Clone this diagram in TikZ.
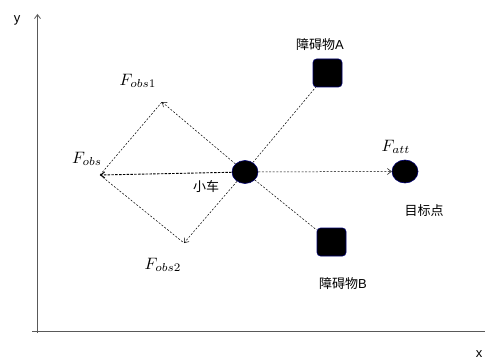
\documentclass[tikz,border=0pt]{standalone}
\usepackage{fontspec}
\setsansfont{Liberation Sans}
\newfontfamily\cjk{Noto Sans CJK SC}
\usetikzlibrary{arrows.meta,shapes.geometric}

\tikzset{
  body/.style={ellipse, fill=black, draw=blue!45!black, line width=0.6pt,
    minimum width=26pt, minimum height=23pt, inner sep=0pt},
  obst/.style={rectangle, rounded corners=3.5pt, fill=black, draw=blue!45!black,
    line width=0.6pt, minimum width=29pt, minimum height=28pt, inner sep=0pt},
  link/.style={draw=black, line width=0.5pt, dash pattern=on 2pt off 1.6pt},
  force/.style={link, -{Straight Barb[length=4pt,width=6pt]}},
  axis/.style={draw=black!65, line width=0.8pt},
  cjklabel/.style={font=\cjk\fontsize{13}{15}\selectfont, inner sep=0pt},
  mathlabel/.style={scale=1.65, inner sep=0pt},
  axislabel/.style={font=\sffamily\fontsize{13}{15}\selectfont, inner sep=0pt}
}

\begin{document}
\begin{tikzpicture}[x=1pt,y=-1pt]
\useasboundingbox (0,0) rectangle (485,361);

% axes
\coordinate (ybot) at (37.5,333);
\coordinate (ytop) at (37.5,14);
\coordinate (xleft) at (32,331);
\coordinate (xright) at (487,331);
\draw[axis, -{Straight Barb[length=4pt,width=6pt]}] (ybot) -- (ytop);
\draw[axis] (xleft) -- (xright);
\node[axislabel] (ylab) at (17,20) {y};
\node[axislabel] (xlab) at (479,354) {x};

% vehicle, obstacles and goal
\node[body] (car) at (245,172) {};
\node[obst] (A) at (327.5,73) {};
\node[obst] (B) at (331.5,242) {};
\node[body] (goal) at (405,171.5) {};

% force end points
\coordinate (f1) at (162,102);
\coordinate (f) at (100,175);
\coordinate (f2) at (184,243);

% connections
\draw[link] (car) -- (A);
\draw[link] (car) -- (B);
\draw[link] (f) -- (f1);
\draw[link] (f) -- (f2);
\draw[force] (car) -- (f1);
\draw[force] (car) -- (f2);
\draw[force, line width=0.9pt, dash pattern=on 2.5pt off 1.3pt] (car) -- (f);
\draw[force] (car) -- (goal.west);

% labels
\node[mathlabel] (lf1) at (138,81) {$F_{obs1}$};
\node[mathlabel] (lf) at (87,159) {$F_{obs}$};
\node[mathlabel] (lf2) at (163,265) {$F_{obs2}$};
\node[mathlabel] (latt) at (396,147) {$F_{att}$};
\node[cjklabel] (lcar) at (206,187) {小车};
\node[cjklabel] (lA) at (320,45) {障碍物\sffamily A};
\node[cjklabel] (lB) at (343,284) {障碍物\sffamily B};
\node[cjklabel] (lgoal) at (424,211) {目标点};
\end{tikzpicture}
\end{document}
